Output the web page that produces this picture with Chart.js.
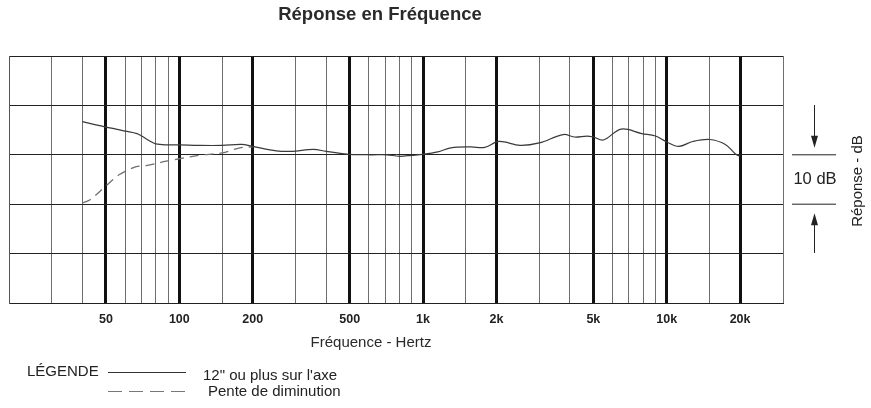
<!DOCTYPE html>
<html>
<head>
<meta charset="utf-8">
<script src="https://cdn.jsdelivr.net/npm/chart.js@4/dist/chart.umd.min.js"></script>
<style>
  body { margin: 0; background: #fff; }
  #wrap { width: 871px; height: 408px; position: relative; }
</style>
</head>
<body>
<div id="wrap"><canvas id="freqChart"></canvas></div>
<script>
// frequency (Hz) and response (dB)
const onAxisFreq = [40, 45, 50, 55, 60, 67, 70, 75, 80, 90, 100, 120, 150, 180, 200, 250, 290, 355, 400, 458, 500, 610, 712, 800, 900, 1000, 1150, 1300, 1570, 1790, 2050, 2500, 3000, 3760, 4200, 4700, 5000, 5500, 6500, 7900, 9000, 10000, 11200, 12800, 15000, 17400, 19200, 20000];
const onAxisDb = [6.7, 6.1, 5.6, 5.2, 4.8, 4.3, 3.8, 2.9, 2.2, 2.0, 2.0, 1.9, 1.9, 2.1, 1.7, 0.8, 0.7, 1.1, 0.7, 0.3, 0.1, 0.0, 0.0, -0.3, -0.1, 0.1, 0.6, 1.4, 1.6, 1.5, 2.7, 1.9, 2.4, 4.1, 3.6, 3.8, 3.6, 3.0, 5.2, 4.3, 3.8, 2.6, 1.7, 2.7, 3.1, 2.1, 0.1, -0.3];

const rollOffFreq = [40, 42.7, 50, 56.8, 66.5, 73, 88.4, 100, 121, 150, 177, 200];
const rollOffDb = [-9.7, -9.2, -6.3, -4.0, -2.4, -2.2, -1.3, -0.8, -0.1, 0.4, 1.4, 1.6];

const gridFreqs = [20, 30, 40, 50, 60, 70, 80, 90, 100, 150, 200, 300, 400, 500, 600, 700, 800, 900, 1000, 1500, 2000, 3000, 4000, 5000, 6000, 7000, 8000, 9000, 10000, 15000, 20000, 30000];
const majorFreqs = [50, 100, 200, 500, 1000, 2000, 5000, 10000, 20000];
const tickLabels = ["50", "100", "200", "500", "1k", "2k", "5k", "10k", "20k"];

const FONT = "'Liberation Sans', Arial, sans-serif";

const textPlugin = {
  id: "annotations",
  afterDraw(chart) {
    const c = chart.ctx;
    c.save();
    c.fillStyle = "#2a2a2a";
    c.textBaseline = "middle";

    // title
    c.textAlign = "center";
    c.font = "bold 18.5px " + FONT;
    c.fillText("Réponse en Fréquence", 380, 15);

    // x axis title
    c.font = "15px " + FONT;
    c.fillText("Fréquence - Hertz", 371, 343);

    // 10 dB marker on the right
    const y0 = chart.scales.y.getPixelForValue(0);
    const y1 = chart.scales.y.getPixelForValue(-10);
    c.strokeStyle = "#222";
    c.lineWidth = 1;
    c.beginPath();
    c.moveTo(792, y0); c.lineTo(836, y0);
    c.moveTo(792, y1); c.lineTo(836, y1);
    c.moveTo(814.5, 105); c.lineTo(814.5, y0 - 10);
    c.moveTo(814.5, 253); c.lineTo(814.5, y1 + 12);
    c.stroke();
    c.fillStyle = "#222";
    c.beginPath();
    c.moveTo(811, y0 - 19); c.lineTo(818, y0 - 19); c.lineTo(814.5, y0 - 7); c.closePath();
    c.moveTo(811, y1 + 21); c.lineTo(818, y1 + 21); c.lineTo(814.5, y1 + 9); c.closePath();
    c.fill();
    c.font = "16.5px " + FONT;
    c.fillText("10 dB", 815, (y0 + y1) / 2);

    c.save();
    c.translate(858, 181);
    c.rotate(-Math.PI / 2);
    c.font = "15px " + FONT;
    c.fillText("Réponse - dB", 0, 0);
    c.restore();

    // legend
    c.textAlign = "left";
    c.font = "15px " + FONT;
    c.fillText("LÉGENDE", 27, 372);
    c.fillText("12\" ou plus sur l'axe", 203, 376);
    c.fillText("Pente de diminution", 208, 392);
    c.strokeStyle = "#333";
    c.lineWidth = 1.2;
    c.beginPath();
    c.moveTo(108, 372.5); c.lineTo(186, 372.5);
    c.stroke();
    c.strokeStyle = "#777";
    c.setLineDash([14, 7]);
    c.beginPath();
    c.moveTo(108, 391.5); c.lineTo(186, 391.5);
    c.stroke();
    c.restore();
  }
};

const ctx = document.getElementById("freqChart").getContext("2d");
const chart = new Chart(ctx, {
  type: "line",
  data: {
    datasets: [
      {
        label: "12\" ou plus sur l'axe",
        data: onAxisFreq.map((f, i) => ({ x: f, y: onAxisDb[i] })),
        borderColor: "#3a3a3a",
        borderWidth: 1.2,
        pointRadius: 0,
        tension: 0.35,
        fill: false
      },
      {
        label: "Pente de diminution",
        data: rollOffFreq.map((f, i) => ({ x: f, y: rollOffDb[i] })),
        borderColor: "#707070",
        borderWidth: 1.3,
        borderDash: [9, 6],
        pointRadius: 0,
        tension: 0.35,
        fill: false
      }
    ]
  },
  options: {
    responsive: true,
    maintainAspectRatio: false,
    animation: false,
    layout: { padding: { left: 9, right: 88, top: 56, bottom: 0 } },
    plugins: {
      legend: { display: false },
      title: { display: false },
      tooltip: { enabled: false }
    },
    scales: {
      x: {
        type: "logarithmic",
        min: 20,
        max: 30000,
        afterBuildTicks: (scale) => {
          scale.ticks = gridFreqs.map((v) => ({ value: v }));
        },
        afterFit: (scale) => { scale.height = 105; },
        ticks: {
          autoSkip: false,
          maxRotation: 0,
          padding: 9,
          color: "#222",
          font: { family: FONT, size: 12.5, weight: "bold" },
          callback: (value) => {
            const i = majorFreqs.indexOf(value);
            return i >= 0 ? tickLabels[i] : "";
          }
        },
        grid: {
          drawTicks: false,
          color: (c) => (c.tick && majorFreqs.includes(c.tick.value) ? "#111" : "#6e6e6e"),
          lineWidth: (c) => (c.tick && majorFreqs.includes(c.tick.value) ? 3 : 1)
        },
        border: { color: "#222", width: 1 }
      },
      y: {
        min: -30,
        max: 20,
        afterFit: (scale) => { scale.width = 0; },
        ticks: { stepSize: 10, display: false },
        grid: { drawTicks: false, color: "#222", lineWidth: 1 },
        border: { color: "#555", width: 1 }
      }
    }
  },
  plugins: [textPlugin]
});
</script>
</body>
</html>
